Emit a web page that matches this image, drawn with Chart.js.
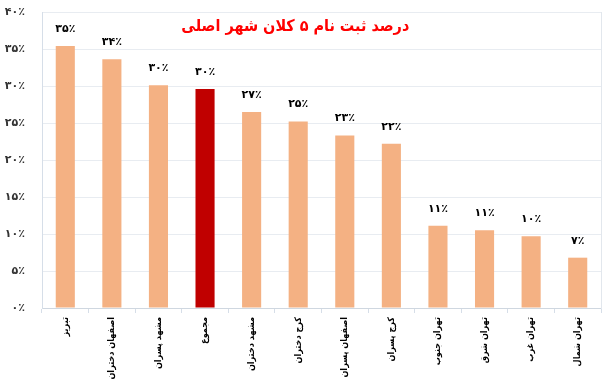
<!DOCTYPE html>
<html>
<head>
<meta charset="utf-8">
<script src="https://cdn.jsdelivr.net/npm/chart.js@4.4.0/dist/chart.umd.min.js"></script>
<style>
  html, body { margin: 0; padding: 0; background: #fff; }
  #wrap { width: 614px; height: 382px; }
</style>
</head>
<body>
<div id="wrap"><canvas id="chart"></canvas></div>
<script>
const chartTitle = 'درصد ثبت نام ۵ کلان شهر اصلی';
const categories = ['تبریز', 'اصفهان دختران', 'مشهد پسران', 'مجموع', 'مشهد دختران', 'کرج دختران',
    'اصفهان پسران', 'کرج پسران', 'تهران جنوب', 'تهران شرق', 'تهران غرب', 'تهران شمال'];
const percentValues = [35.4, 33.6, 30.1, 29.6, 26.5, 25.2, 23.3, 22.2, 11.1, 10.5, 9.7, 6.8];
const highlightCategory = 'مجموع';
const yTicks = [0, 5, 10, 15, 20, 25, 30, 35, 40];

const FONT = '"DejaVu Sans", sans-serif';
const FONT_NARROW = '"DejaVu Sans Condensed", "DejaVu Sans", sans-serif';

function toPersianDigits(n) {
    return String(n).replace(/[0-9]/g, d => '۰۱۲۳۴۵۶۷۸۹'[d]);
}

function pct(v) {
    return toPersianDigits(Math.round(v)) + '٪';
}

// value labels above each bar
const valueLabels = {
    id: 'valueLabels',
    afterDatasetsDraw(chart) {
        const ctx = chart.ctx;
        const meta = chart.getDatasetMeta(0);
        ctx.save();
        ctx.font = 'bold 11px ' + FONT;
        ctx.fillStyle = '#000';
        ctx.textAlign = 'center';
        ctx.textBaseline = 'middle';
        meta.data.forEach((bar, i) => {
            ctx.fillText(pct(percentValues[i]), bar.x, bar.y - 17);
        });
        ctx.restore();
    }
};

// title sits inside the plot area like in the original
const innerTitle = {
    id: 'innerTitle',
    afterDraw(chart) {
        const { ctx, chartArea } = chart;
        ctx.save();
        ctx.font = 'bold 16px ' + FONT_NARROW;
        ctx.fillStyle = '#FF0000';
        ctx.textAlign = 'center';
        ctx.textBaseline = 'middle';
        ctx.fillText(chartTitle, chartArea.left + chartArea.width * 0.453, 27);
        ctx.restore();
    }
};

function noPad(scale) {
    scale.paddingTop = 0;
    scale.paddingBottom = 0;
}

new Chart(document.getElementById('chart'), {
    type: 'bar',
    data: {
        labels: categories,
        datasets: [{
            data: percentValues,
            backgroundColor: categories.map(c => c === highlightCategory ? '#C00000' : '#F4B183'),
            barPercentage: 0.41,
            categoryPercentage: 1
        }]
    },
    options: {
        responsive: true,
        maintainAspectRatio: false,
        animation: false,
        layout: { padding: { left: 0, right: 13, top: 12, bottom: 0 } },
        plugins: {
            legend: { display: false },
            tooltip: { enabled: false }
        },
        scales: {
            x: {
                grid: { offset: true, drawOnChartArea: false, tickLength: 5, color: '#D6DEE8' },
                border: { color: '#CFD7E0' },
                ticks: {
                    autoSkip: false,
                    minRotation: 90,
                    maxRotation: 90,
                    padding: 4,
                    color: '#000',
                    font: { family: FONT_NARROW, size: 9, weight: 'bold' }
                },
                afterFit(scale) { scale.height = 74; noPad(scale); }
            },
            y: {
                min: 0,
                max: 40,
                afterBuildTicks(scale) { scale.ticks = yTicks.map(v => ({ value: v })); },
                grid: { color: '#E8ECF1', drawTicks: false },
                border: { color: '#D6DEE8' },
                ticks: {
                    padding: 17,
                    color: '#333',
                    font: { family: FONT, size: 11, weight: 'bold' },
                    callback: v => pct(v)
                },
                afterFit(scale) { scale.width = 42; noPad(scale); }
            },
            yRight: {
                position: 'right',
                min: 0,
                max: 40,
                grid: { display: false },
                border: { display: true, color: '#E2E7ED' },
                ticks: { display: false },
                afterFit(scale) { scale.width = 0; noPad(scale); }
            }
        }
    },
    plugins: [valueLabels, innerTitle]
});
</script>
</body>
</html>
